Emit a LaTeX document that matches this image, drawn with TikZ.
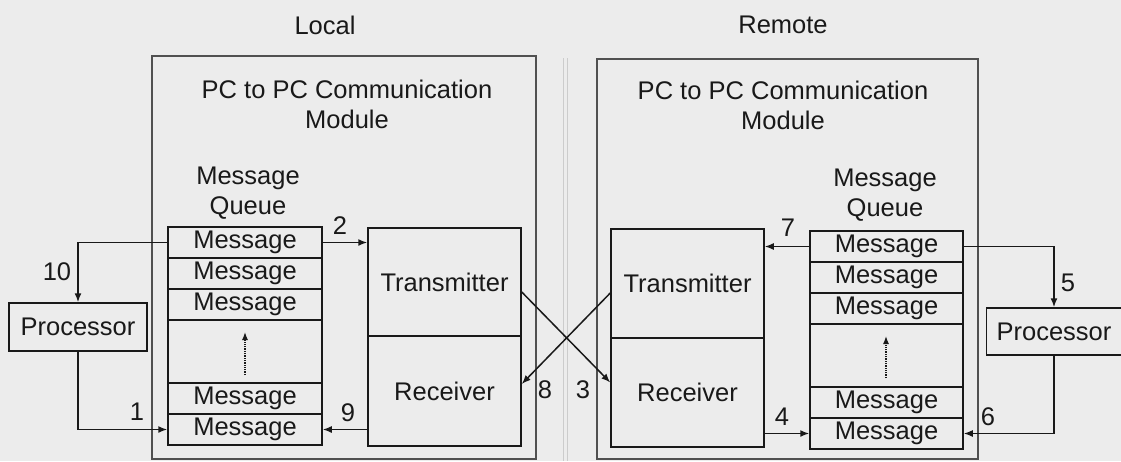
\documentclass[tikz,border=0pt]{standalone}
\usepackage{fontspec}
\setmainfont{Liberation Sans}
\usetikzlibrary{arrows.meta,calc}
\definecolor{bg}{RGB}{236,236,236}
\definecolor{ink}{RGB}{25,25,25}
\definecolor{frame}{RGB}{80,80,80}
\begin{document}
\begin{tikzpicture}[x=1pt,y=-1pt,
  font=\fontsize{25.5}{30}\selectfont,
  box/.style={draw=ink, line width=1.5pt, inner sep=0pt, text=ink},
  qrow/.style={box, minimum height=31pt},
  lbl/.style={text=ink, inner sep=0pt, align=center},
  arr/.style={draw=ink, line width=1.5pt, -{Latex[length=9pt,width=7pt]}},
  dotarr/.style={draw=ink, line width=1.3pt, densely dotted, -{Latex[length=8pt,width=6pt]}},
  bigbox/.style={draw=frame, line width=1.1pt}]
\fill[bg] (0,0) rectangle (1121,461);
\useasboundingbox (0,0) rectangle (1121,461);

% divider
\draw[gray!40, line width=1pt] (563.5,58) -- (563.5,461);
\draw[gray!40, line width=1pt] (567.5,58) -- (567.5,461);

% big module boxes
\draw[bigbox] (152,56) rectangle (536,459);
\draw[bigbox] (597,59) rectangle (978,459);

% titles
\node[lbl] (tlocal) at (325,25) {Local};
\node[lbl] (tremote) at (783,25) {Remote};
\node[lbl] (lmod) at (347,104) {PC to PC Communication\\Module};
\node[lbl] (rmod) at (783,105) {PC to PC Communication\\Module};
\node[lbl] (lqt) at (248,193) {Message\\Queue};
\node[lbl] (rqt) at (885,195) {Message\\Queue};

% local queue
\begin{scope}[every node/.append style={minimum width=154pt}]
\node[qrow] (lq1) at (245,242.5) {Message};
\node[qrow] (lq2) at (245,273.5) {Message};
\node[qrow] (lq3) at (245,304.5) {Message};
\node[box, minimum height=63pt] (lqg) at (245,351.5) {};
\node[qrow] (lq5) at (245,398.5) {Message};
\node[qrow] (lq6) at (245,429.5) {Message};
\end{scope}
\coordinate (ld1) at (245,375);
\coordinate (ld2) at (245,332);
\draw[dotarr] (ld1) -- (ld2);

% remote queue
\begin{scope}[every node/.append style={minimum width=153pt}]
\node[qrow] (rq1) at (886.5,246.5) {Message};
\node[qrow] (rq2) at (886.5,277.5) {Message};
\node[qrow] (rq3) at (886.5,308.5) {Message};
\node[box, minimum height=63pt] (rqg) at (886.5,355.5) {};
\node[qrow] (rq5) at (886.5,402.5) {Message};
\node[qrow] (rq6) at (886.5,433.5) {Message};
\end{scope}
\coordinate (rd1) at (886,378);
\coordinate (rd2) at (886,336);
\draw[dotarr] (rd1) -- (rd2);

% transmitter / receiver
\node[box, minimum width=153pt, minimum height=108pt] (ltx) at (444.5,282) {Transmitter};
\node[box, minimum width=153pt, minimum height=110pt] (lrx) at (444.5,391) {Receiver};
\node[box, minimum width=153pt, minimum height=109pt] (rtx) at (687.5,283.5) {Transmitter};
\node[box, minimum width=153pt, minimum height=109pt] (rrx) at (687.5,392.5) {Receiver};

% processors
\node[box, minimum width=138pt, minimum height=48pt] (lproc) at (78,327) {Processor};
\node[box, minimum width=135pt, minimum height=47pt] (rproc) at (1054,331.5) {Processor};

% connectors
\draw[arr] (lq1.west) -| (lproc.north);
\draw[arr] (lproc.south) |- (lq6.west);
\draw[arr] (lq1.east) -- (lq1.east -| ltx.west);
\draw[arr] (lrx.west |- lq6.east) -- (lq6.east);
\draw[arr] ($(ltx.east)+(0,10)$) -- ($(rrx.west)+(0,-10)$);
\draw[arr] ($(rtx.west)+(0,9.5)$) -- ($(lrx.east)+(0,-7)$);
\draw[arr] (rq1.west) -- (rq1.west -| rtx.east);
\draw[arr] (rrx.east |- rq6.west) -- (rq6.west);
\draw[arr] (rq1.east) -| (rproc.north);
\draw[arr] (rproc.south) |- (rq6.east);

% numbers
\node[lbl] (n10) at (57,272) {10};
\node[lbl] (n1) at (137,412) {1};
\node[lbl] (n2) at (340,226) {2};
\node[lbl] (n9) at (348,413) {9};
\node[lbl] (n8) at (545,390) {8};
\node[lbl] (n3) at (583,390) {3};
\node[lbl] (n7) at (788,228) {7};
\node[lbl] (n4) at (782,417) {4};
\node[lbl] (n5) at (1068,283) {5};
\node[lbl] (n6) at (988,417) {6};
\end{tikzpicture}
\end{document}
